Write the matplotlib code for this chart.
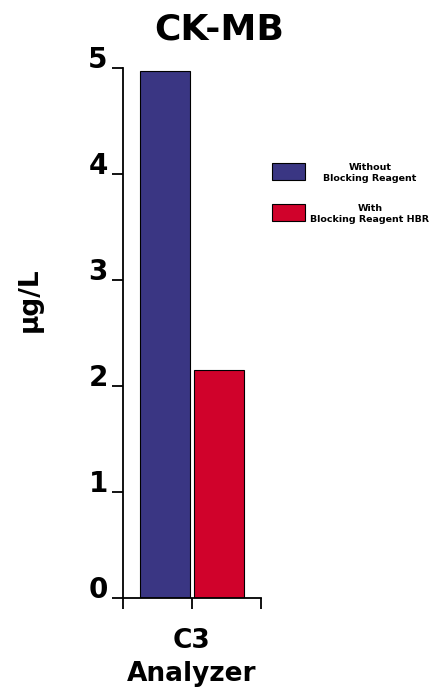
import matplotlib.pyplot as plt
from matplotlib.patches import Rectangle

# data
series = ['Without\nBlocking Reagent', 'With\nBlocking Reagent HBR']
valori = [4.97, 2.15]
colori = ['#3a3683', '#d0022b']
posizioni = [-0.395, 0.395]
yticks = [0, 1, 2, 3, 4, 5]

plt.rcParams['font.family'] = ['DejaVu Sans']
plt.rcParams['font.weight'] = 'bold'

fig = plt.figure(figsize=(4.33, 6.94), dpi=100)
ax = fig.add_axes([0.284, 0.1383, 0.319, 0.7637])

ax.bar(posizioni, valori, width=0.72, color=colori, edgecolor='black', linewidth=0.8)

ax.set_xlim(-1, 1)
ax.set_ylim(0, 5)
ax.set_xticks([-1, 0, 1])
ax.set_xticklabels(['', '', ''])
ax.set_yticks(yticks)
ax.set_yticklabels([str(v) for v in yticks], fontsize=20, fontweight='bold')
for etichetta in ax.get_yticklabels():
    etichetta.set_verticalalignment('baseline')

for lato in ['top', 'right']:
    ax.spines[lato].set_visible(False)
ax.spines['left'].set_linewidth(1.3)
ax.spines['bottom'].set_linewidth(1.3)
ax.tick_params(axis='y', direction='out', length=8, width=1.3, pad=3)
ax.tick_params(axis='x', direction='out', length=8, width=1.3)

# testi
fig.text(0.507, 0.958, 'CK-MB', ha='center', va='center', fontsize=26, fontweight='bold')
fig.text(0.068, 0.568, 'µg/L', ha='center', va='center', rotation=90, fontsize=19, fontweight='bold')
fig.text(0.443, 0.052, 'C3\nAnalyzer', ha='center', va='center', fontsize=19,
         fontweight='bold', linespacing=1.35)

# legenda (testo centrato come nell'originale)
W, H = 433, 694
for i, (nome, c) in enumerate(zip(series, colori)):
    y_top = 163 + i * 41
    fig.add_artist(Rectangle((272 / W, 1 - (y_top + 17) / H), 33 / W, 17 / H,
                             transform=fig.transFigure, facecolor=c,
                             edgecolor='black', linewidth=0.8))
    fig.text(370 / W, 1 - (y_top + 10) / H, nome, ha='center', va='center',
             fontsize=6.8, fontweight='bold', multialignment='center', linespacing=1.25)

fig.savefig('out.png', dpi=100)
